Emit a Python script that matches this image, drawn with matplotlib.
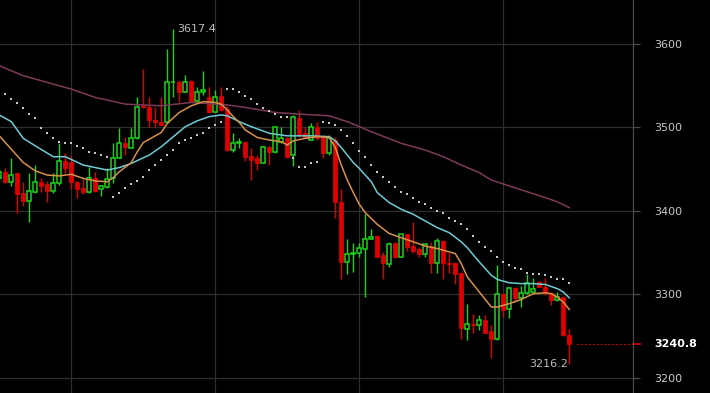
import numpy as np
import matplotlib.pyplot as plt
from matplotlib.lines import Line2D

# candle data (hourly bars, first bar is cut by the left edge)
opens = [3440, 3447, 3435, 3445, 3421, 3412, 3423, 3435, 3432, 3424, 3433, 3460, 3459, 3435, 3427, 3423,
         3440, 3426, 3429, 3440, 3464, 3481, 3476, 3487, 3526, 3525, 3509, 3507, 3506, 3554, 3555, 3543,
         3556, 3532, 3542, 3536, 3519, 3538, 3522, 3473, 3482, 3483, 3466, 3464, 3458, 3477, 3471, 3483,
         3488, 3467, 3511, 3493, 3485, 3501, 3490, 3469, 3485, 3411, 3339, 3348, 3350, 3355, 3367, 3370,
         3347, 3337, 3362, 3345, 3372, 3358, 3354, 3348, 3358, 3338, 3364, 3338, 3338, 3326, 3259, 3265,
         3263, 3269, 3256, 3247, 3301, 3283, 3308, 3296, 3302, 3303, 3315, 3309, 3302, 3293, 3297, 3252]
highs = [3452, 3452, 3463, 3446, 3435, 3445, 3455, 3440, 3436, 3445, 3482, 3469, 3467, 3436, 3438, 3453,
         3447, 3431, 3451, 3482, 3499, 3489, 3499, 3537, 3570, 3536, 3524, 3537, 3594, 3617.4, 3557, 3563,
         3557, 3548, 3568, 3548, 3545, 3548, 3526, 3493, 3487, 3484, 3476, 3467, 3478, 3478, 3502, 3501,
         3489, 3515, 3521, 3500, 3505, 3506, 3491, 3491, 3489, 3426, 3366, 3362, 3362, 3396, 3378, 3371,
         3351, 3363, 3363, 3372, 3372, 3387, 3357, 3362, 3363, 3368, 3365, 3350, 3339, 3327, 3289, 3277,
         3276, 3275, 3264, 3335, 3302, 3309, 3309, 3310, 3325, 3320, 3316, 3320, 3303, 3303, 3298, 3259]
lows = [3435, 3433, 3430, 3397, 3406, 3387, 3422, 3423, 3411, 3422, 3431, 3446, 3426, 3416, 3420, 3422,
        3423, 3418, 3428, 3434, 3463, 3467, 3475, 3486, 3523, 3501, 3501, 3503, 3505, 3537, 3530, 3542,
        3530, 3531, 3539, 3517, 3518, 3520, 3472, 3471, 3476, 3460, 3437, 3449, 3457, 3455, 3470, 3482,
        3464, 3454, 3489, 3487, 3485, 3485, 3464, 3467, 3392, 3318, 3324, 3327, 3345, 3297, 3366, 3345,
        3319, 3333, 3344, 3345, 3352, 3350, 3345, 3345, 3326, 3326, 3319, 3326, 3313, 3247, 3246, 3254,
        3258, 3254, 3224, 3246, 3273, 3272, 3291, 3285, 3301, 3303, 3309, 3299, 3287, 3292, 3250, 3216.2]
closes = [3447, 3435, 3443, 3420, 3412, 3424, 3435, 3430, 3424, 3433, 3460, 3451, 3435, 3426, 3423, 3440,
          3424, 3430, 3438, 3464, 3481, 3477, 3487, 3525, 3524, 3509, 3506, 3503, 3554, 3555, 3542, 3555,
          3532, 3542, 3545, 3518, 3536, 3521, 3473, 3482, 3483, 3465, 3461, 3458, 3477, 3471, 3501, 3488,
          3465, 3513, 3491, 3488, 3501, 3488, 3469, 3488, 3411, 3339, 3348, 3350, 3356, 3367, 3369, 3345,
          3338, 3361, 3345, 3372, 3357, 3352, 3348, 3360, 3338, 3364, 3338, 3337, 3325, 3260, 3265, 3263,
          3269, 3254, 3247, 3301, 3281, 3308, 3296, 3302, 3314, 3306, 3309.5, 3302, 3293, 3297, 3251, 3240.8]
bars = np.arange(-1, len(opens) - 1)

# slow moving average (purple)
ma_slow_idx = [-1, 3, 7, 11, 15, 20, 26, 31, 37, 40, 45, 49, 54, 57, 61, 66, 70, 73, 76, 79, 81, 84, 87, 90, 92, 94]
ma_slow = [3574, 3562, 3554, 3546, 3536, 3528, 3526, 3530, 3527, 3524, 3518, 3516, 3514, 3507, 3495, 3481,
           3473, 3465, 3455, 3446, 3437, 3430, 3423, 3416, 3411, 3404]

# mid moving average (cyan)
ma_mid_idx = [-1, 1, 3, 5, 8, 10, 13, 15, 17, 19, 21, 24, 26, 28, 30, 32, 34, 36, 37, 39, 41, 44, 47, 51, 54,
              55, 56, 58, 59, 61, 62, 64, 66, 68, 70, 72, 74, 76, 77, 79, 81, 82, 84, 86, 88, 90, 92, 93, 94]
ma_mid = [3515, 3507, 3487, 3478, 3465, 3465, 3455, 3452, 3449, 3452, 3457, 3467, 3477, 3489, 3501, 3508,
          3513, 3515, 3514, 3507, 3501, 3493, 3490, 3490, 3489, 3484, 3476, 3458, 3451, 3435, 3422, 3410,
          3402, 3396, 3388, 3380, 3374, 3363, 3356, 3339, 3323, 3318, 3314, 3313, 3313, 3312, 3307, 3303, 3296]

# fast moving average (orange)
ma_fast_idx = [-1, 1, 3, 5, 7, 9, 11, 13, 15, 17, 18, 19, 21, 22, 23, 25, 26, 27, 29, 31, 33, 35, 36, 37, 38,
               39, 40, 42, 44, 46, 47, 48, 50, 52, 54, 55, 56, 57, 58, 59, 60, 62, 64, 66, 68, 70, 72, 74, 75,
               76, 77, 79, 80, 81, 82, 84, 86, 88, 90, 91, 92, 93, 94]
ma_fast = [3490, 3474, 3458, 3448, 3443, 3442, 3444, 3439, 3436, 3435, 3440, 3447, 3458, 3471, 3482, 3490,
           3494, 3505, 3518, 3526, 3531, 3530, 3528, 3521, 3513, 3506, 3497, 3488, 3485, 3483, 3479, 3484,
           3487, 3489, 3488, 3476, 3455, 3437, 3422, 3408, 3398, 3384, 3373, 3368, 3363, 3358, 3355, 3351,
           3349, 3337, 3321, 3303, 3294, 3285, 3285, 3289, 3294, 3301, 3302, 3301, 3297, 3291, 3282]

# parabolic SAR dots
sar_idx = list(range(0, 95))
sar = [3540, 3534, 3529, 3523, 3516, 3511, 3499, 3493, 3488, 3483, 3482, 3482, 3478, 3475, 3471, 3470,
       3467, 3465, 3417, 3422, 3427, 3432, 3436, 3441, 3449, 3455, 3461, 3467, 3473, 3481, 3485, 3488,
       3491, 3494, 3499, 3503, 3507, 3546, 3546, 3542, 3538, 3534, 3528, 3523, 3520, 3516, 3513, 3512,
       3463, 3453, 3453, 3457, 3459, 3507, 3505, 3503, 3497, 3490, 3482, 3472, 3465, 3455, 3447, 3441,
       3435, 3429, 3423, 3420, 3415, 3411, 3408, 3404, 3400, 3397, 3392, 3388, 3385, 3378, 3370, 3363,
       3357, 3352, 3345, 3339, 3335, 3332, 3330, 3326, 3324, 3324, 3323, 3321, 3319, 3318, 3314]

yticks = [3200, 3300, 3400, 3500, 3600]
day_lines = [11, 35, 59, 83]

UP = '#1ed21e'
DOWN = '#dc0000'

fig = plt.figure(figsize=(7.1, 3.93), dpi=100, facecolor='black')
ax = fig.add_axes([0, 0, 633 / 710, 1], facecolor='black')

ax.set_xlim(-0.883, 104.62)
ax.set_ylim(3182.0, 3652.7)

for y in yticks:
    ax.axhline(y, color='#2e2e2e', lw=0.9, zorder=0)
for d in day_lines:
    ax.axvline(d, color='#2e2e2e', lw=0.9, zorder=0)

o = np.array(opens, float)
h = np.array(highs, float)
l = np.array(lows, float)
c = np.array(closes, float)
up = c >= o

# wicks
ax.vlines(bars[up], l[up], h[up], color=UP, lw=1.0, zorder=2)
ax.vlines(bars[~up], l[~up], h[~up], color=DOWN, lw=1.0, zorder=2)

# bodies
body_lo = np.minimum(o, c)
body_h = np.maximum(np.abs(c - o), 0.9)
ax.bar(bars[up], body_h[up], bottom=body_lo[up], width=0.6, facecolor='black',
       edgecolor=UP, linewidth=1.1, zorder=3)
ax.bar(bars[~up], body_h[~up], bottom=body_lo[~up], width=0.62, facecolor=DOWN,
       edgecolor=DOWN, linewidth=0.6, zorder=3)

# moving averages
ax.plot(ma_slow_idx, ma_slow, color='#7c3a5a', lw=1.1, zorder=4)
ax.plot(ma_mid_idx, ma_mid, color='#6ccbd3', lw=1.1, zorder=4)
ax.plot(ma_fast_idx, ma_fast, color='#d8914a', lw=1.1, zorder=4)

# SAR
ax.scatter(sar_idx, sar, marker='s', s=3.5, color='#c8c8c8', linewidths=0, zorder=5)

# high / low annotations
hi_i = int(np.argmax(h))
lo_i = int(np.argmin(l))
ax.text(bars[hi_i] + 0.6, h[hi_i], f'{h[hi_i]:.1f}', color='#bdbdbd', fontsize=8,
        ha='left', va='center', zorder=6)
ax.text(bars[lo_i] - 0.2, l[lo_i], f'{l[lo_i]:.1f}', color='#bdbdbd', fontsize=8,
        ha='right', va='center', zorder=6)

# last price line
last = c[-1]
ax.plot([bars[-1] + 1.3, 104.62], [last, last], color=DOWN, lw=0.8, ls=(0, (1.5, 2)), zorder=4)

# right axis
for s in ['top', 'left', 'bottom']:
    ax.spines[s].set_visible(False)
ax.spines['right'].set_color('#4a4a4a')
ax.spines['right'].set_linewidth(0.9)
ax.set_xticks([])
ax.yaxis.tick_right()
ax.set_yticks(yticks)
ax.set_yticklabels([str(t) for t in yticks])
ax.tick_params(axis='y', colors='#4a4a4a', length=5, width=0.9, pad=10,
               labelcolor='#c8c8c8', labelsize=8)

trans = ax.get_yaxis_transform()
ax.add_line(Line2D([1.0, 1.0 + 7 / 633], [last, last], transform=trans, color='#e00000',
                   lw=1.2, clip_on=False))
ax.text(1.0 + 21 / 633, last, f'{last:.1f}', transform=trans, color='white', fontsize=8,
        fontweight='bold', ha='left', va='center', clip_on=False)

fig.savefig('out.png', dpi=100, facecolor='black')
